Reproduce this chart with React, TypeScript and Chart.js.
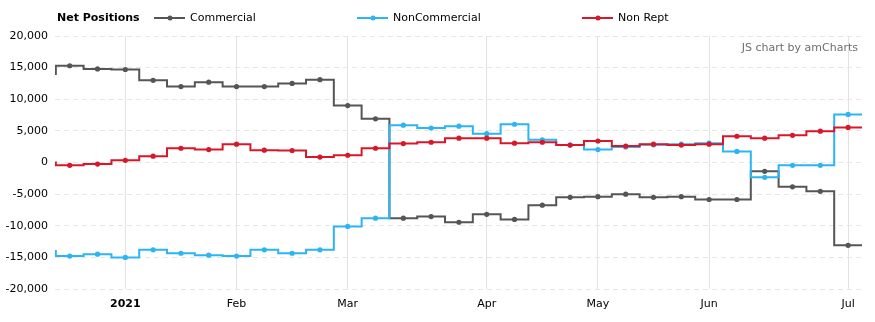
import React, { useEffect, useRef } from "react";
import { Chart, registerables } from "chart.js";

Chart.register(...registerables);

// ---- data ----
const dates = [
  "2020-12-15", "2020-12-22", "2020-12-29",
  "2021-01-05", "2021-01-12", "2021-01-19", "2021-01-26",
  "2021-02-02", "2021-02-09", "2021-02-16", "2021-02-23",
  "2021-03-02", "2021-03-09", "2021-03-16", "2021-03-23", "2021-03-30",
  "2021-04-06", "2021-04-13", "2021-04-20", "2021-04-27",
  "2021-05-04", "2021-05-11", "2021-05-18", "2021-05-25",
  "2021-06-01", "2021-06-08", "2021-06-15", "2021-06-22", "2021-06-29",
  "2021-07-06",
];

const commercial = [
  14000, 15300, 14800, 14700, 13000, 12000, 12700, 12000, 12000, 12500,
  13100, 9000, 6900, -8800, -8550, -9450, -8200, -9000, -6750, -5500,
  -5400, -5000, -5500, -5400, -5850, -5850, -1400, -3850, -4550, -13100,
];

const nonCommercial = [
  -14000, -14800, -14500, -15000, -13800, -14350, -14650, -14800, -13800, -14350,
  -13800, -10100, -8800, 5900, 5450, 5750, 4550, 6050, 3600, 2750,
  2050, 2450, 2800, 2900, 3050, 1750, -2350, -450, -450, 7600,
];

const nonRept = [
  0, -450, -250, 350, 1000, 2250, 2050, 2900, 1950, 1900,
  850, 1150, 2250, 3000, 3200, 3850, 3850, 3050, 3200, 2750,
  3400, 2600, 2900, 2750, 2900, 4150, 3850, 4300, 4950, 5550,
];

const seriesNames = ["Commercial", "NonCommercial", "Non Rept"];
const seriesColors = ["#555555", "#2bb5f4", "#d7182a"];
const monthNames = ["Jan", "Feb", "Mar", "Apr", "May", "Jun", "Jul", "Aug", "Sep", "Oct", "Nov", "Dec"];
const chartTitle = "Net Positions";
const watermark = "JS chart by amCharts";
const yMin = -20000;
const yMax = 20000;
const yStep = 5000;

// ---- layout constants ----
const FONT = "'DejaVu Sans', Verdana, sans-serif";
const legendX = [154, 357, 582];
const X_MIN = 0.47;
const X_MAX = dates.length - 0.5;

// month-start ticks derived from the dates
const tickIdx: number[] = [];
const tickLabel: Record<number, string> = {};
const boldTicks = new Set<number>();
for (let i = 1; i < dates.length; i++) {
  const [y, m] = dates[i].split("-").map(Number);
  const pm = Number(dates[i - 1].split("-")[1]);
  if (m !== pm) {
    tickIdx.push(i);
    if (m === 1) {
      tickLabel[i] = String(y);
      boldTicks.add(i);
    } else {
      tickLabel[i] = monthNames[m - 1];
    }
  }
}

function toPoints(vals: number[]) {
  const pts = vals.map((v, i) => ({ x: i, y: v }));
  // carry the last step to the right edge
  pts.push({ x: vals.length, y: vals[vals.length - 1] });
  return pts;
}

const headerPlugin = {
  id: "header",
  afterDraw(chart: any) {
    const ctx = chart.ctx as CanvasRenderingContext2D;
    ctx.save();
    ctx.textBaseline = "middle";
    ctx.textAlign = "left";
    ctx.font = `bold 11px ${FONT}`;
    ctx.fillStyle = "#000";
    ctx.fillText(chartTitle, 57, 18);
    ctx.font = `11px ${FONT}`;
    seriesNames.forEach((name, i) => {
      const x0 = legendX[i];
      ctx.strokeStyle = seriesColors[i];
      ctx.lineWidth = 2;
      ctx.beginPath();
      ctx.moveTo(x0, 18);
      ctx.lineTo(x0 + 31, 18);
      ctx.stroke();
      ctx.fillStyle = seriesColors[i];
      ctx.beginPath();
      ctx.arc(x0 + 16, 18, 2.5, 0, Math.PI * 2);
      ctx.fill();
      ctx.fillStyle = "#000";
      ctx.fillText(name, x0 + 36, 18);
    });
    ctx.textAlign = "right";
    ctx.fillStyle = "#6e6e6e";
    ctx.fillText(watermark, 858, 48);
    ctx.restore();
  },
};

export default function App() {
  const ref = useRef<HTMLCanvasElement>(null);

  useEffect(() => {
    if (!ref.current) return;
    const n = dates.length;
    const series = [commercial, nonCommercial, nonRept];
    const chart = new Chart(ref.current, {
      type: "line",
      data: {
        datasets: series.map((vals, i) => ({
          label: seriesNames[i],
          data: toPoints(vals),
          borderColor: seriesColors[i],
          backgroundColor: seriesColors[i],
          borderWidth: 2,
          stepped: "middle" as const,
          pointRadius: (c: any) => (c.dataIndex >= n ? 0 : 2.6),
          pointBackgroundColor: seriesColors[i],
          pointBorderWidth: 0,
          fill: false,
          order: 3 - i,
          clip: { left: 0, right: 0, top: 4, bottom: 4 } as any,
        })),
      },
      options: {
        animation: false,
        responsive: true,
        maintainAspectRatio: false,
        layout: { padding: { top: 36, right: 13, left: 0, bottom: 0 } },
        plugins: {
          legend: { display: false },
          tooltip: { enabled: false },
          title: { display: false },
        },
        scales: {
          x: {
            type: "linear",
            min: X_MIN,
            max: X_MAX,
            afterBuildTicks: (scale: any) => {
              scale.ticks = tickIdx.map((v) => ({ value: v }));
            },
            afterFit: (scale: any) => {
              scale.height = 33;
            },
            ticks: {
              autoSkip: false,
              maxRotation: 0,
              padding: 9,
              color: "#000",
              callback: (v: any) => tickLabel[v] ?? "",
              font: (c: any) => ({
                family: FONT,
                size: 11,
                weight: c.tick && boldTicks.has(c.tick.value) ? "bold" : "normal",
              }),
            },
            grid: { color: "#e2e2e2", lineWidth: 1, drawTicks: false },
            border: { display: false },
          },
          y: {
            min: yMin,
            max: yMax,
            afterFit: (scale: any) => {
              scale.width = 55;
            },
            ticks: {
              stepSize: yStep,
              padding: 7,
              color: "#000",
              font: { family: FONT, size: 11 },
              callback: (v: any) => Number(v).toLocaleString("en-US"),
            },
            grid: { color: "#e6e6e6", lineWidth: 1, drawTicks: false },
            border: { display: false, dash: [5, 4] },
          },
        },
      },
      plugins: [headerPlugin],
    });
    return () => chart.destroy();
  }, []);

  return (
    <div style={{ position: "absolute", left: 0, top: 0, width: 875, height: 322 }}>
      <canvas ref={ref} />
    </div>
  );
}
